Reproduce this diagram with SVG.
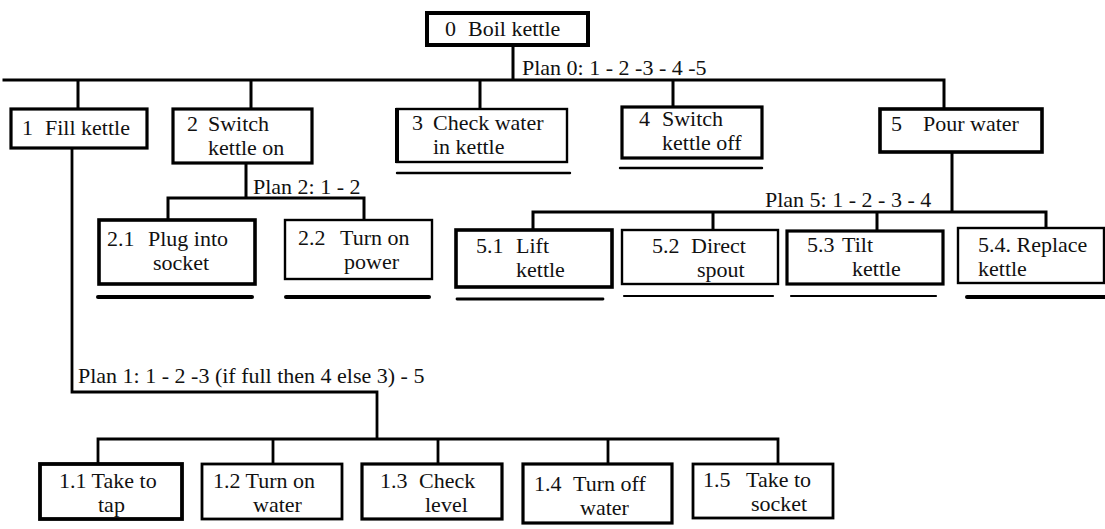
<svg xmlns="http://www.w3.org/2000/svg" width="1105" height="529" viewBox="0 0 1105 529" font-family="'Liberation Serif', 'Times New Roman', serif" font-size="22" fill="#111">
  <style>
    .box { fill: #fff; stroke: #000; }
    .w4 { stroke-width: 4; }
    .w3 { stroke-width: 3.2; }
    .w2 { stroke-width: 2.4; }
    .link { fill: none; stroke: #000; stroke-width: 3; stroke-linecap: square; }
    .ul { stroke: #000; stroke-linecap: round; }
  </style>

  <!-- connectors and plan labels -->
  <g id="connectors">
    <!-- top level -->
    <path class="link" d="M513 45 V80 M4 80 H944 M78 80 V109 M251 80 V109 M480 80 V109 M673 80 V107 M944 80 V109"/>
    <!-- plan 2 -->
    <path class="link" d="M246 163 V198 M168 198 H364 M168 198 V220 M364 198 V220"/>
    <!-- plan 5 -->
    <path class="link" d="M952 152 V212 M533 212 H1046 M533 212 V230 M713 212 V230 M877 212 V231 M1046 212 V228"/>
    <!-- plan 1 -->
    <path class="link" d="M72 148 V392 H377 V439 M98 439 H778 M98 439 V464 M273 439 V464 M438 439 V464 M608 439 V464 M778 439 V464" style="stroke-width:2.8"/>
    <text x="522" y="75">Plan 0: 1 - 2 -3 - 4 -5</text>
    <text x="253" y="194">Plan 2: 1 - 2</text>
    <text x="765" y="207">Plan 5: 1 - 2 - 3 - 4</text>
    <text x="78" y="383">Plan 1: 1 - 2 -3 (if full then 4 else 3) - 5</text>
  </g>

  <g id="n0">
    <rect class="box w4" x="427" y="13" width="161" height="32"/>
    <text x="445" y="36">0</text><text x="468" y="36">Boil kettle</text>
  </g>
  <g id="n1">
    <rect class="box w3" x="11" y="109" width="136" height="39"/>
    <text x="22" y="135">1</text><text x="45" y="135">Fill kettle</text>
  </g>
  <g id="n2">
    <rect class="box w3" x="173" y="109" width="139" height="54"/>
    <text x="187" y="131">2</text><text x="208" y="131">Switch</text>
    <text x="208" y="155">kettle on</text>
  </g>
  <g id="n3">
    <rect class="box w2" x="397" y="109" width="170" height="53"/>
    <path d="M397 108 V163" stroke="#000" stroke-width="4"/>
    <text x="412" y="130">3</text><text x="433" y="130">Check water</text>
    <text x="433" y="154">in kettle</text>
    <line class="ul" x1="397" y1="173" x2="570" y2="173" stroke-width="2.4"/>
  </g>
  <g id="n4">
    <rect class="box w3" x="622" y="107" width="140" height="51"/>
    <text x="639" y="126">4</text><text x="662" y="126">Switch</text>
    <text x="662" y="150">kettle off</text>
    <line class="ul" x1="620" y1="168" x2="762" y2="168" stroke-width="2.4"/>
  </g>
  <g id="n5">
    <rect class="box w3" x="880" y="109" width="162" height="43" style="stroke-width:3.6"/>
    <text x="891" y="131">5</text><text x="923" y="131">Pour water</text>
  </g>
  <g id="n2_1">
    <rect class="box w3" x="99" y="220" width="156" height="64" style="stroke-width:3.6"/>
    <text x="107" y="246">2.1</text><text x="148" y="246">Plug into</text>
    <text x="153" y="270">socket</text>
    <line class="ul" x1="98" y1="297" x2="252" y2="297" stroke-width="4"/>
  </g>
  <g id="n2_2">
    <rect class="box w2" x="285" y="220" width="147" height="59"/>
    <text x="298" y="245">2.2</text><text x="340" y="245">Turn on</text>
    <text x="344" y="269">power</text>
    <line class="ul" x1="286" y1="297" x2="429" y2="297" stroke-width="4"/>
  </g>
  <g id="n5_1">
    <rect class="box w3" x="456" y="230" width="156" height="57" style="stroke-width:3.6"/>
    <text x="476" y="253">5.1</text><text x="516" y="253">Lift</text>
    <text x="516" y="277">kettle</text>
    <line class="ul" x1="457" y1="299" x2="603" y2="299" stroke-width="2.8"/>
  </g>
  <g id="n5_2">
    <rect class="box w2" x="622" y="230" width="156" height="54"/>
    <text x="652" y="253">5.2</text><text x="691" y="253">Direct</text>
    <text x="697" y="277">spout</text>
    <line class="ul" x1="624" y1="296" x2="773" y2="296" stroke-width="2.2"/>
  </g>
  <g id="n5_3">
    <rect class="box w3" x="787" y="231" width="156" height="53"/>
    <text x="807" y="252">5.3</text><text x="842" y="252">Tilt</text>
    <text x="852" y="276">kettle</text>
    <line class="ul" x1="791" y1="296" x2="936" y2="296" stroke-width="2.2"/>
  </g>
  <g id="n5_4">
    <rect class="box w2" x="958" y="228" width="146" height="55"/>
    <text x="978" y="252">5.4. Replace</text>
    <text x="978" y="276">kettle</text>
    <line class="ul" x1="967" y1="297" x2="1105" y2="297" stroke-width="4"/>
  </g>
  <g id="n1_1">
    <rect class="box w3" x="40" y="464" width="142" height="55" style="stroke-width:3.8"/>
    <text x="59" y="488">1.1 Take to</text>
    <text x="98" y="512">tap</text>
  </g>
  <g id="n1_2">
    <rect class="box w2" x="202" y="464" width="140" height="55" style="stroke-width:2.8"/>
    <text x="213" y="488">1.2 Turn on</text>
    <text x="253" y="512">water</text>
  </g>
  <g id="n1_3">
    <rect class="box w3" x="362" y="464" width="140" height="55"/>
    <text x="380" y="488">1.3</text><text x="419" y="488">Check</text>
    <text x="425" y="512">level</text>
  </g>
  <g id="n1_4">
    <rect class="box w3" x="523" y="464" width="149" height="59"/>
    <text x="534" y="491">1.4</text><text x="573" y="491">Turn off</text>
    <text x="580" y="515">water</text>
  </g>
  <g id="n1_5">
    <rect class="box w2" x="693" y="464" width="140" height="54" style="stroke-width:2.8"/>
    <text x="703" y="487">1.5</text><text x="746" y="487">Take to</text>
    <text x="751" y="511">socket</text>
  </g>
</svg>
